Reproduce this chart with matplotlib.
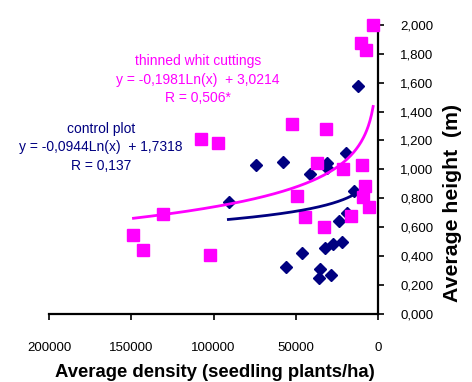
import numpy as np
import matplotlib

matplotlib.use("Agg")

from matplotlib import pyplot as plt  # noqa: E402
from matplotlib.ticker import FuncFormatter  # noqa: E402

plt.rcParams["font.family"] = ["Liberation Sans", "DejaVu Sans"]

MAGENTA = "#ff00ff"
NAVY = "#000080"

# thinned whit cuttings
thinned_density = [148700, 143100, 130500, 107600, 102100, 97300, 52300, 49400,
                   44400, 36900, 32800, 31800, 21100, 16600, 10500, 9900, 9000,
                   7900, 7300, 5300, 3000]
thinned_height = [0.547, 0.445, 0.690, 1.213, 0.406, 1.186, 1.315, 0.817,
                  0.674, 1.047, 0.600, 1.278, 1.001, 0.678, 1.873, 1.031, 0.812,
                  0.886, 1.827, 0.738, 2.000]

# control plot
control_density = [90400, 74200, 57900, 55900, 46400, 41200, 35300, 35700,
                   32200, 31200, 31200, 28800, 27200, 23500, 21700, 19600,
                   19000, 14400, 12000]
control_height = [0.777, 1.031, 1.050, 0.323, 0.420, 0.967, 0.309, 0.247,
                  0.455, 1.047, 1.008, 0.270, 0.482, 0.646, 0.500, 1.116,
                  0.696, 0.853, 1.578]

# logarithmic trend lines: y = a*ln(x) + b, drawn over [x_min, x_max]
thinned_fit = (-0.1981, 3.0214, 3000, 148700)
control_fit = (-0.0944, 1.7318, 14400, 91000)

x_ticks = [200000, 150000, 100000, 50000, 0]
y_ticks = [0.0, 0.2, 0.4, 0.6, 0.8, 1.0, 1.2, 1.4, 1.6, 1.8, 2.0]


def trend(fit):
    a, b, lo, hi = fit
    xs = np.linspace(lo, hi, 300)
    return xs, a * np.log(xs) + b


fig = plt.figure(figsize=(4.72, 3.82), dpi=100)
ax = fig.add_axes([0.104, 0.178, 0.697, 0.757])

ax.plot(control_density, control_height, linestyle="none", marker="D",
        markersize=6.2, color=NAVY, clip_on=False, zorder=3)
ax.plot(thinned_density, thinned_height, linestyle="none", marker="s",
        markersize=8.5, color=MAGENTA, clip_on=False, zorder=3)

xs, ys = trend(thinned_fit)
ax.plot(xs, ys, color=MAGENTA, linewidth=2.0, zorder=4)
xs, ys = trend(control_fit)
ax.plot(xs, ys, color=NAVY, linewidth=2.0, zorder=4)

ax.set_xlim(200000, 0)
ax.set_ylim(0, 2.0)
ax.set_xticks(x_ticks)
ax.set_yticks(y_ticks)
ax.xaxis.set_major_formatter(FuncFormatter(lambda v, _: f"{int(v)}"))
ax.yaxis.set_major_formatter(FuncFormatter(lambda v, _: f"{v:.3f}".replace(".", ",")))

ax.yaxis.tick_right()
ax.yaxis.set_label_position("right")
for side in ("top", "left"):
    ax.spines[side].set_visible(False)
for side in ("bottom", "right"):
    ax.spines[side].set_linewidth(1.6)
ax.tick_params(axis="both", direction="out", length=4, width=1.2, labelsize=9.5)
ax.tick_params(axis="y", pad=12)
ax.tick_params(axis="x", pad=16)

ax.set_xlabel("Average density (seedling plants/ha)", fontsize=13.3,
              fontweight="bold", va="center")
ax.xaxis.set_label_coords(0.503, -0.203)
ax.set_ylabel("Average height  (m)", fontsize=15.3, fontweight="bold",
              rotation=90, va="center", ha="center")
ax.yaxis.set_label_coords(1.225, 0.384)

ax.text(0.453, 0.81, "thinned whit cuttings\ny = -0,1981Ln(x)  + 3,0214\nR = 0,506*",
        transform=ax.transAxes, ha="center", va="center", color=MAGENTA,
        fontsize=10, linespacing=1.4)
ax.text(0.158, 0.576, "control plot\ny = -0,0944Ln(x)  + 1,7318\nR = 0,137",
        transform=ax.transAxes, ha="center", va="center", color=NAVY,
        fontsize=10, linespacing=1.4)

fig.savefig("out.png", dpi=100)
